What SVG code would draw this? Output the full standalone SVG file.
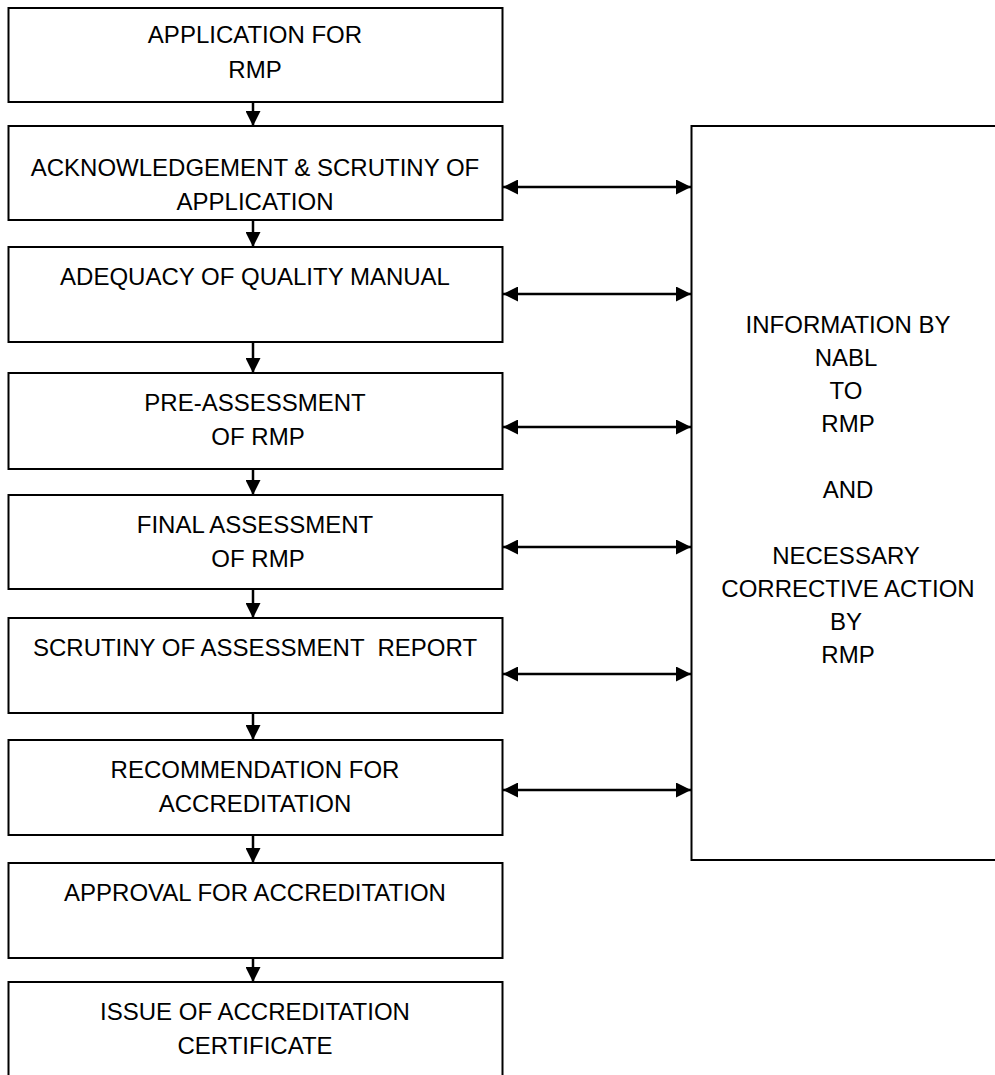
<svg xmlns="http://www.w3.org/2000/svg" width="995" height="1075" viewBox="0 0 995 1075">
<defs>
<style>
.box{fill:#fff;stroke:#000;stroke-width:2}
.t{font-family:"Liberation Sans",Arial,sans-serif;font-size:24px;fill:#000;text-anchor:middle}
.c{stroke:#000;stroke-width:2.5;fill:none}
</style>
<marker id="ah" viewBox="0 0 10 10" refX="10" refY="5" markerWidth="6" markerHeight="6" markerUnits="strokeWidth" orient="auto-start-reverse">
<path d="M0,0 L10,5 L0,10 z" fill="#000"/>
</marker>
</defs>
<g id="n1"><rect class="box" x="8.5" y="8" width="494" height="94"/><text class="t" x="255" y="43">APPLICATION FOR</text><text class="t" x="255" y="78">RMP</text></g>
<g id="n2"><rect class="box" x="8.5" y="126" width="494" height="94"/><text class="t" x="255" y="176">ACKNOWLEDGEMENT &amp; SCRUTINY OF</text><text class="t" x="255" y="210">APPLICATION</text></g>
<g id="n3"><rect class="box" x="8.5" y="247" width="494" height="95"/><text class="t" x="255" y="285">ADEQUACY OF QUALITY MANUAL</text></g>
<g id="n4"><rect class="box" x="8.5" y="373" width="494" height="96"/><text class="t" x="255" y="411">PRE-ASSESSMENT</text><text class="t" x="258" y="445">OF RMP</text></g>
<g id="n5"><rect class="box" x="8.5" y="495" width="494" height="94"/><text class="t" x="255" y="533">FINAL ASSESSMENT</text><text class="t" x="258" y="567">OF RMP</text></g>
<g id="n6"><rect class="box" x="8.5" y="618" width="494" height="95"/><text class="t" x="255" y="656" xml:space="preserve">SCRUTINY OF ASSESSMENT  REPORT</text></g>
<g id="n7"><rect class="box" x="8.5" y="740" width="494" height="95"/><text class="t" x="255" y="778">RECOMMENDATION FOR</text><text class="t" x="255" y="812">ACCREDITATION</text></g>
<g id="n8"><rect class="box" x="8.5" y="863" width="494" height="95"/><text class="t" x="255" y="901">APPROVAL FOR ACCREDITATION</text></g>
<g id="n9"><rect class="box" x="8.5" y="982" width="494" height="110"/><text class="t" x="255" y="1020">ISSUE OF ACCREDITATION</text><text class="t" x="255" y="1054">CERTIFICATE</text></g>
<g id="n10"><rect class="box" x="691.5" y="126" width="320" height="734"/>
<text class="t" x="848" y="333">INFORMATION BY</text>
<text class="t" x="846" y="366">NABL</text>
<text class="t" x="846" y="399">TO</text>
<text class="t" x="848" y="432">RMP</text>
<text class="t" x="848" y="498">AND</text>
<text class="t" x="846" y="564">NECESSARY</text>
<text class="t" x="848" y="597">CORRECTIVE ACTION</text>
<text class="t" x="846" y="630">BY</text>
<text class="t" x="848" y="663">RMP</text>
</g>
<g id="connectors">
<line class="c" x1="253" y1="102" x2="253" y2="126" marker-end="url(#ah)"/>
<line class="c" x1="253" y1="220" x2="253" y2="247" marker-end="url(#ah)"/>
<line class="c" x1="253" y1="342" x2="253" y2="373" marker-end="url(#ah)"/>
<line class="c" x1="253" y1="469" x2="253" y2="495" marker-end="url(#ah)"/>
<line class="c" x1="253" y1="589" x2="253" y2="618" marker-end="url(#ah)"/>
<line class="c" x1="253" y1="713" x2="253" y2="740" marker-end="url(#ah)"/>
<line class="c" x1="253" y1="835" x2="253" y2="863" marker-end="url(#ah)"/>
<line class="c" x1="253" y1="958" x2="253" y2="982" marker-end="url(#ah)"/>
<line class="c" x1="503" y1="187" x2="691" y2="187" marker-start="url(#ah)" marker-end="url(#ah)"/>
<line class="c" x1="503" y1="294" x2="691" y2="294" marker-start="url(#ah)" marker-end="url(#ah)"/>
<line class="c" x1="503" y1="427" x2="691" y2="427" marker-start="url(#ah)" marker-end="url(#ah)"/>
<line class="c" x1="503" y1="547" x2="691" y2="547" marker-start="url(#ah)" marker-end="url(#ah)"/>
<line class="c" x1="503" y1="674" x2="691" y2="674" marker-start="url(#ah)" marker-end="url(#ah)"/>
<line class="c" x1="503" y1="790" x2="691" y2="790" marker-start="url(#ah)" marker-end="url(#ah)"/>
</g>
</svg>
